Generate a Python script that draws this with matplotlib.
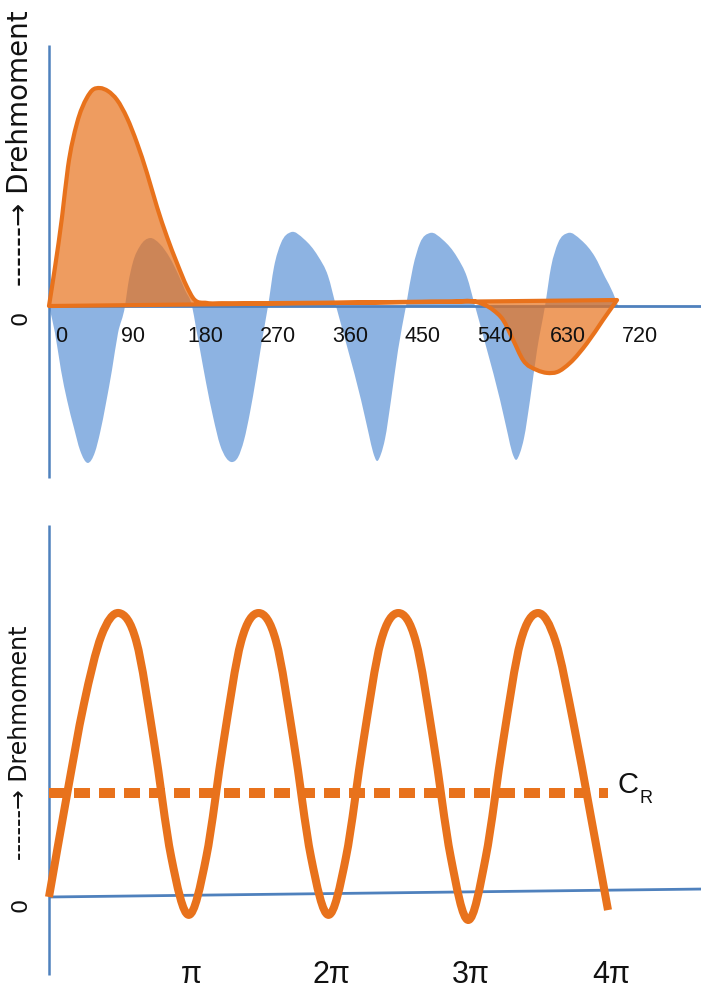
import numpy as np
import matplotlib
matplotlib.use("Agg")
import matplotlib.pyplot as plt
from matplotlib.path import Path
from matplotlib.patches import PathPatch

# ---------------------------------------------------------------- data
# Upper diagram: crank angle in degrees, torque in relative units
blue_deg = [0, 7.5, 14.9, 22.4, 31.1, 38.5, 48.5, 57.2, 63.4, 70.9, 78.3, 85.8, 94.5,
            98.2, 104.4, 113.1, 125.6, 138.0, 150.4, 160.4, 169.1, 177.8,
            182.8, 187.8, 195.3, 204.0, 212.7, 220.2, 227.6, 235.1, 242.5, 250.0, 257.4, 264.9, 272.3,
            279.7, 288.4, 300.9, 317.0, 334.4, 346.9, 356.8,
            371.7, 387.9, 397.8, 402.8, 407.7, 412.7, 417.7, 425.2, 433.9, 443.8,
            452.5, 461.2, 473.6, 489.8, 507.2, 519.6, 529.6,
            544.5, 560.7, 570.6, 575.6, 580.6, 585.5, 590.5, 598.0, 606.7, 616.6,
            624.1, 632.8, 645.2, 661.4, 678.8, 691.2, 701.2, 707.4]
blue_val = [0, -12.4, -29.4, -43.1, -56.0, -66.1, -72.0, -67.0, -58.3, -44.5, -29.4, -12.4, 0,
            9.6, 20.2, 27.5, 31.2, 28.4, 22.0, 14.7, 7.3, 0,
            -10.1, -20.2, -35.3, -50.9, -63.8, -69.7, -71.6, -69.3, -61.5, -48.6, -33.0, -15.6, 0,
            17.9, 28.9, 33.9, 30.7, 22.9, 13.8, 0,
            -20.2, -43.1, -59.2, -67.0, -71.1, -67.9, -61.0, -43.1, -20.2, 0,
            17.9, 28.9, 33.5, 30.3, 22.5, 13.3, 0,
            -20.2, -43.1, -59.2, -67.0, -70.6, -67.4, -60.6, -43.1, -20.2, 0,
            17.9, 28.9, 33.5, 30.3, 22.5, 13.3, 6.0, 0]

orange_deg = [0, 7.5, 16.2, 23.6, 34.8, 47.2, 53.5, 63.4, 73.4, 84.5, 97.0, 109.4, 121.8,
              134.3, 146.7, 159.1, 171.6, 179.0, 196.4, 215, 250, 300, 400, 500, 532,
              552, 564.5, 577, 589.3, 606.7, 619.1, 631.5, 647.7, 668.9, 688.7, 706.1]
orange_val = [0, 17.9, 40.8, 63.8, 83.9, 95.6, 98.9, 100.0, 98.6, 94.6, 86.3, 74.8, 61.0,
              45.4, 31.7, 19.7, 8.7, 3.7, 1.4, 1.3, 1.3, 1.4, 1.7, 2.0, 1.8,
              -1.8, -6.4, -15.6, -24.8, -29.4, -30.7, -30.3, -26.1, -17.0, -6.4, 2.75]

deg_ticks = [0, 90, 180, 270, 360, 450, 540, 630, 720]
deg_labels = ["0", "90", "180", "270", "360", "450", "540", "630", "720"]

# Lower diagram: angle in multiples of pi, torque in relative units
wave_t = [0, 0.125, 0.25, 0.375, 0.5, 0.625, 0.75, 0.875, 1.0,
          1.125, 1.25, 1.375, 1.5, 1.625, 1.75, 1.875, 2.0,
          2.125, 2.25, 2.375, 2.5, 2.625, 2.75, 2.875, 3.0,
          3.125, 3.25, 3.375, 3.5, 3.625, 3.75, 3.875, 4.0]
wave_val = [0, 35, 68, 92, 100, 90, 55, 14, -6.3,
            14, 55, 90, 100, 90, 55, 14, -6.3,
            14, 55, 90, 100, 90, 55, 14, -8.1,
            14, 55, 90, 100, 90, 62, 29, -4.6]
c_r = 36.6
pi_ticks = [1, 2, 3, 4]
pi_labels = ["π", "2π", "3π", "4π"]

# ---------------------------------------------------------------- style
ORANGE = "#E8721C"
ORANGE_FILL = (232 / 255, 114 / 255, 28 / 255, 0.70)
BLUE_FILL = "#8DB3E2"
BLUE_LINE = "#4F81BD"
LABEL_FONT = ["Liberation Sans", "DejaVu Sans"]


def smooth_path(x, y, close=False):
    """Smooth cubic through the points (Bessel tangents), as Bezier segments."""
    x = np.asarray(x, float)
    y = np.asarray(y, float)
    n = len(x)
    h = np.diff(x)
    d = np.diff(y) / h
    m = np.empty(n)
    m[0], m[-1] = d[0], d[-1]
    m[1:-1] = (h[:-1] * d[1:] + h[1:] * d[:-1]) / (h[:-1] + h[1:])
    verts = [(x[0], y[0])]
    codes = [Path.MOVETO]
    for i in range(n - 1):
        k = h[i] / 3.0
        verts += [(x[i] + k, y[i] + m[i] * k),
                  (x[i + 1] - k, y[i + 1] - m[i + 1] * k),
                  (x[i + 1], y[i + 1])]
        codes += [Path.CURVE4] * 3
    if close:
        verts += [(x[0], y[0]), (x[0], y[0])]
        codes += [Path.LINETO, Path.CLOSEPOLY]
    return Path(verts, codes)


fig = plt.figure(figsize=(7.01, 9.90), dpi=100)

# ---------------------------------------------------------------- upper diagram
ax1 = fig.add_axes([0, 1 - 500 / 990, 1, 500 / 990])
ax1.set_xlim(-60.9, 810.5)
ax1.set_ylim(-89.0, 140.4)
ax1.axis("off")

ax1.add_patch(PathPatch(smooth_path(blue_deg, blue_val, close=True),
                        facecolor=BLUE_FILL, edgecolor="none", zorder=1))
ax1.plot([0, 810.5], [0, 0], color=BLUE_LINE, lw=2.0, zorder=2, solid_capstyle="butt")
ax1.plot([0, 0], [-79.0, 119.7], color=BLUE_LINE, lw=1.8, zorder=2, solid_capstyle="butt")
ax1.add_patch(PathPatch(smooth_path(orange_deg, orange_val, close=True),
                        facecolor=ORANGE_FILL, edgecolor=ORANGE, lw=3.0,
                        joinstyle="round", zorder=3))

for d, lab in zip(deg_ticks, deg_labels):
    ax1.annotate(lab, xy=(d, 0), xytext=(12, -30), textcoords="offset pixels",
                 ha="center", va="center", fontsize=15.5, family=LABEL_FONT, color="#111111")

# ---------------------------------------------------------------- lower diagram
ax2 = fig.add_axes([0, 0, 1, 490 / 990])
ax2.set_xlim(-0.3506, 4.6655)
ax2.set_ylim(-32.75, 139.8)
ax2.axis("off")

ax2.plot([0, 4.6655], [0, 2.8], color=BLUE_LINE, lw=2.0, zorder=1, solid_capstyle="butt")
ax2.plot([0, 0], [-27.5, 131.0], color=BLUE_LINE, lw=1.8, zorder=1, solid_capstyle="butt")
ax2.plot([0, 4.0], [c_r, c_r], color=ORANGE, lw=7.2, dashes=(1.6, 0.9),
         solid_capstyle="butt", dash_capstyle="butt", zorder=2)
ax2.add_patch(PathPatch(smooth_path(wave_t, wave_val), fill=False, edgecolor=ORANGE,
                        lw=5.8, capstyle="butt", joinstyle="round", zorder=3))

for t, lab in zip(pi_ticks, pi_labels):
    ax2.annotate(lab, xy=(t, 0), xytext=(3, -78), textcoords="offset pixels",
                 ha="center", va="center", fontsize=22, family=LABEL_FONT, color="#111111")

ax2.annotate("C", xy=(4.0, c_r), xytext=(20, 8), textcoords="offset pixels",
             ha="center", va="center", fontsize=21, family=LABEL_FONT, color="#111111")
ax2.annotate("R", xy=(4.0, c_r), xytext=(38, -5), textcoords="offset pixels",
             ha="center", va="center", fontsize=13, family=LABEL_FONT, color="#111111")

# ---------------------------------------------------------------- axis titles
for y_top, y_zero, size in [(10, 318, 20), (625, 905, 17)]:
    fig.text(20 / 701, 1 - y_top / 990, "------→ Drehmoment", rotation=90,
             rotation_mode="anchor", ha="right", va="center",
             fontsize=size, family="DejaVu Sans", color="#111111")
    fig.text(20 / 701, 1 - y_zero / 990, "0", rotation=90, ha="center", va="center",
             fontsize=16, family="DejaVu Sans", color="#111111")

fig.savefig("out.png", dpi=100)
